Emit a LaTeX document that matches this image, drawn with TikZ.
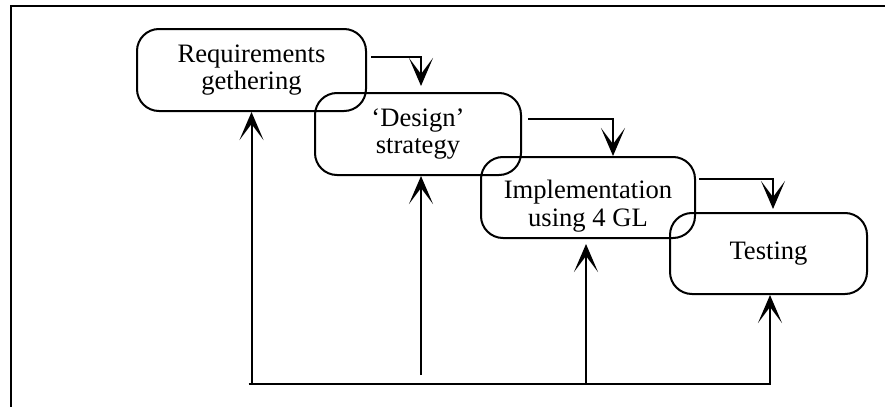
\documentclass[tikz,border=0pt]{standalone}
\usepackage{fontspec}
\setmainfont{Liberation Serif}
\usetikzlibrary{arrows.meta,calc,positioning}

\begin{document}
\begin{tikzpicture}[x=0.5pt,y=-0.5pt,line width=1pt,
  phase/.style={draw,rounded corners=11pt,align=center,inner sep=0pt,
    font=\fontsize{13.3}{13.8}\selectfont},
  flow/.style={-{Stealth[length=14pt,width=12pt,inset=8pt]}}]
  \useasboundingbox (0,0) rectangle (885,407);
  \draw (10.7,407) -- (10.7,6) -- (885,6);
  \node[phase,minimum width=114.5pt,minimum height=41pt] (req) at (251.5,70) {Requirements\\gethering};
  \node[phase,minimum width=103pt,minimum height=41pt] (des) at (418,134) {‘Design’\\strategy};
  \node[phase,minimum width=107pt,minimum height=40.5pt] (imp) at (588,197.5) {\rule{0pt}{18pt}Implementation\\using 4 GL};
  \node[phase,minimum width=98.5pt,minimum height=40.5pt] (tst) at (768.5,253.5) {Testing};
  \coordinate (bus) at (0,384);
  \coordinate (stop) at (0,375);
  % forward steps
  \draw[flow] ([xshift=2pt,yshift=6.5pt]req.east) -| ([xshift=1.5pt,yshift=3pt]des.north);
  \draw[flow] ([xshift=3pt,yshift=7.5pt]des.east) -| ([xshift=12.5pt]imp.north);
  \draw[flow] ([xshift=1.5pt,yshift=9.25pt]imp.east) -| ([xshift=2.25pt,yshift=1.5pt]tst.north);
  % feedback
  \draw ([xshift=-1.5pt]req.south |- bus) -- ([xshift=1pt]tst.south |- bus);
  \draw[flow] (req.south |- bus) -- (req.south);
  \draw[flow] ([xshift=1.5pt]des.south |- stop) -- ([xshift=1.5pt]des.south);
  \draw[flow] ([xshift=-1pt]imp.south |- bus) -- ([xshift=-1pt,yshift=-2.5pt]imp.south);
  \draw[flow] ([xshift=0.75pt]tst.south |- bus) -- ([xshift=0.75pt]tst.south);
\end{tikzpicture}
\end{document}
